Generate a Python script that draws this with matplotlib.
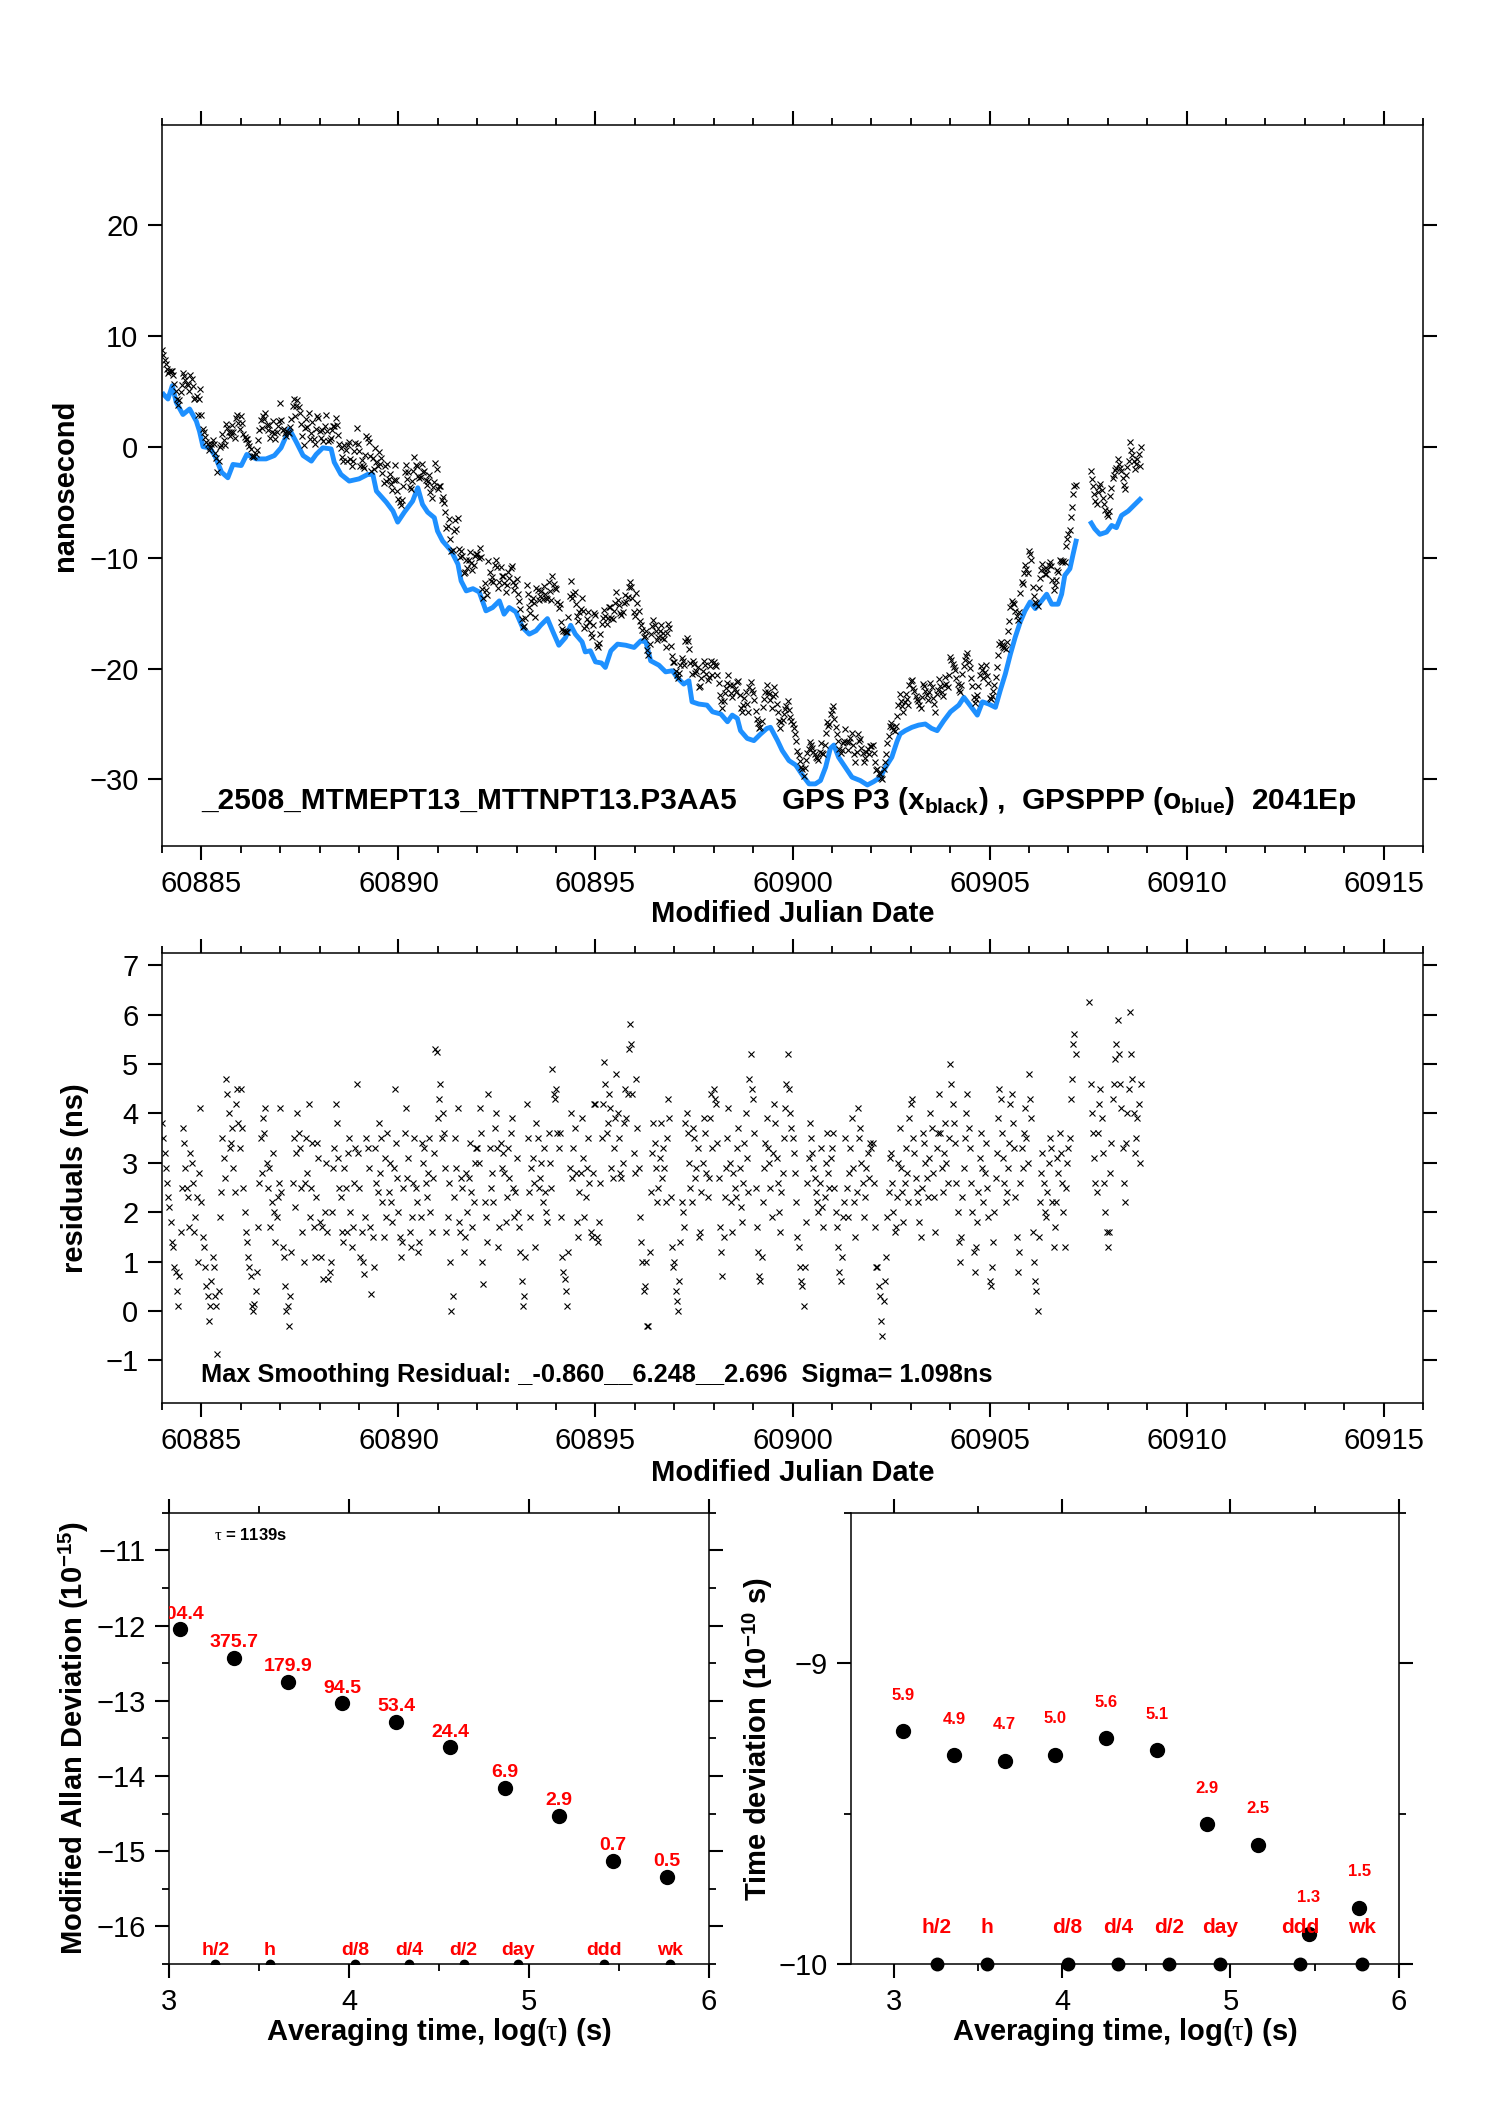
import numpy as np
import matplotlib
matplotlib.use("agg")
from matplotlib import pyplot as plt
from matplotlib import font_manager
from matplotlib.ticker import MultipleLocator, NullLocator

avail = {f.name for f in font_manager.fontManager.ttflist}
NARROW = 'Liberation Sans Narrow' if 'Liberation Sans Narrow' in avail else 'Liberation Sans'

plt.rcParams['font.family'] = ['Liberation Sans', 'DejaVu Sans']
plt.rcParams['mathtext.fontset'] = 'custom'
plt.rcParams['mathtext.rm'] = 'Liberation Sans'
plt.rcParams['mathtext.bf'] = 'Liberation Sans:bold'
plt.rcParams['mathtext.it'] = 'Liberation Serif'

# ---- GPSPPP (blue) curve, MJD / ns ----
blue_mjd = [60884.00, 60884.03, 60884.15, 60884.26, 60884.36, 60884.53, 60884.70, 60884.87, 60884.95,
            60885.04, 60885.21, 60885.34, 60885.51, 60885.67, 60885.80, 60886.01, 60886.15, 60886.39,
            60886.64, 60886.85, 60887.02, 60887.23, 60887.41, 60887.58, 60887.79, 60887.91, 60888.08,
            60888.29, 60888.37, 60888.54, 60888.75, 60889.00, 60889.22, 60889.35, 60889.44, 60889.69,
            60889.86, 60889.98, 60890.15, 60890.36, 60890.49, 60890.61, 60890.74, 60890.91, 60890.99,
            60891.12, 60891.34, 60891.51, 60891.59, 60891.72, 60891.89, 60892.05, 60892.22, 60892.39,
            60892.56, 60892.68, 60892.81, 60892.98, 60893.15, 60893.32, 60893.49, 60893.61, 60893.78,
            60893.91, 60894.07, 60894.24, 60894.37, 60894.49, 60894.66, 60894.74, 60894.87, 60895.00,
            60895.15, 60895.25, 60895.39, 60895.56, 60895.77, 60895.98, 60896.15, 60896.28, 60896.40,
            60896.61, 60896.78, 60896.95, 60897.07, 60897.24, 60897.37, 60897.45, 60897.62, 60897.83,
            60897.97, 60898.18, 60898.35, 60898.47, 60898.60, 60898.68, 60898.85, 60899.02, 60899.19,
            60899.35, 60899.44, 60899.62, 60899.74, 60899.91, 60900.08, 60900.25, 60900.42, 60900.58,
            60900.71, 60900.84, 60900.96, 60901.05, 60901.17, 60901.34, 60901.51, 60901.72, 60901.90,
            60902.06, 60902.23, 60902.36, 60902.52, 60902.65, 60902.73, 60902.86, 60903.03, 60903.20,
            60903.37, 60903.53, 60903.67, 60903.84, 60904.01, 60904.22, 60904.35, 60904.48, 60904.69,
            60904.82, 60904.98, 60905.15, 60905.27, 60905.40, 60905.53, 60905.65, 60905.78, 60905.90,
            60906.03, 60906.16, 60906.32, 60906.45, 60906.58, 60906.74, 60906.83, 60906.91, 60907.04,
            60907.12, 60907.21, 60907.35, 60907.55, 60907.67, 60907.80, 60907.97, 60908.10, 60908.22,
            60908.35, 60908.52, 60908.69, 60908.86]
blue_ns = [4.9, 4.75, 4.3, 5.5, 4.0, 2.9, 3.4, 2.3, 1.4,
           0.0, -0.1, -0.8, -2.3, -2.8, -1.6, -1.7, -0.7, -1.1,
           -1.1, -0.8, -0.1, 1.6, 0.4, -0.8, -1.3, -0.7, -0.1,
           -0.2, -1.4, -2.5, -3.1, -2.9, -2.5, -2.5, -4.0, -5.0,
           -5.8, -6.8, -5.9, -4.9, -3.7, -5.2, -5.9, -6.4, -7.6,
           -8.5, -9.4, -10.6, -12.1, -13.0, -12.8, -13.1, -14.8, -14.5,
           -13.9, -15.1, -14.5, -14.9, -16.3, -16.9, -16.6, -16.1, -15.5,
           -16.6, -17.9, -17.2, -16.1, -16.9, -17.6, -18.5, -18.4, -19.4,
           -19.5, -19.9, -18.4, -17.8, -17.9, -18.1, -17.5, -17.6, -19.3,
           -19.7, -20.3, -20.2, -20.8, -21.4, -21.1, -23.0, -23.2, -23.3,
           -23.9, -24.1, -24.8, -24.2, -24.5, -25.6, -26.3, -26.5, -25.9,
           -25.4, -25.3, -26.5, -27.4, -28.3, -28.7, -29.6, -30.4, -30.4,
           -30.1, -28.9, -27.2, -26.9, -28.0, -28.9, -29.8, -30.1, -30.5,
           -30.2, -29.8, -28.9, -28.0, -26.6, -25.9, -25.6, -25.3, -25.1,
           -25.0, -25.4, -25.6, -24.7, -23.9, -23.3, -22.6, -23.2, -24.2,
           -23.0, -23.2, -23.5, -22.0, -20.5, -18.7, -17.2, -15.8, -14.8,
           -14.0, -14.6, -13.9, -13.3, -14.2, -14.2, -13.3, -11.6, -11.0,
           -9.7, -8.3, np.nan, -6.7, -7.4, -7.9, -7.7, -7.1, -7.3,
           -6.2, -5.8, -5.2, -4.6]

# ---- GPS P3 residuals (ns), 32 samples per day starting MJD 60884 ----
resid_start = 60884
resid_per_day = 32
nan = np.nan
resid_rows = [
    [3.8, 3.5, 3.2, 2.9, 2.6, 2.3, 2.1, 1.8, 1.4, 1.3, 0.9, 0.8, 0.4, 0.1, 0.7, 1.6,
     2.5, 3.7, 3.4, 2.9, 2.5, 2.3, 1.7, 3.2, 3.0, 2.6, 1.6, 1.9, 2.3, 1.0, 2.8, 4.1],
    [2.2, 1.5, 1.3, 0.9, 0.5, 0.3, -0.2, 0.1, 0.6, 1.1, 0.9, 0.3, 0.1, -0.86, 0.4, 1.9,
     2.4, 3.5, 3.1, 2.7, 4.7, 4.4, 4.0, 3.3, 3.4, 3.7, 2.9, 2.4, 4.2, 4.5, 3.8, 3.3],
    [4.5, 3.7, 2.5, 2.0, 1.6, 1.4, 1.1, 0.9, 0.7, 0.1, 0.0, 0.15, 0.4, 0.8, 1.7, 2.6,
     3.5, 2.8, 3.9, 3.6, 4.1, 3.0, 2.5, 2.9, 1.7, 2.2, 3.2, 2.0, 1.4, 1.9, 2.3, 2.6],
    [4.1, 2.4, 1.3, 1.1, 0.5, 0.0, 0.1, -0.3, 0.3, 1.2, 2.6, 3.5, 2.1, 3.2, 4.0, 3.6,
     3.3, 2.5, 1.6, 1.0, 2.6, 3.5, 2.8, 4.2, 1.9, 2.5, 3.4, 1.7, 1.1, 2.3, 3.4, 3.1],
    [1.8, 1.1, 1.7, 0.65, 2.0, 3.0, 1.6, 0.65, 0.8, 1.0, 2.0, 2.9, 3.3, 4.2, 3.8, 3.1,
     2.5, 2.3, 1.6, 1.4, 2.9, 2.5, 1.6, 3.2, 3.5, 2.0, 1.3, 1.7, 2.6, 3.3, 4.6, 3.2],
    [2.5, 1.1, 1.6, 1.0, 0.75, 1.9, 3.5, 3.3, 2.9, 1.7, 0.35, 1.5, 0.9, 3.3, 2.6, 2.4,
     3.8, 2.8, 3.5, 2.2, 1.5, 3.1, 1.9, 3.6, 2.4, 3.0, 2.2, 1.8, 2.9, 4.5, 3.4, 2.7],
    [2.0, 1.5, 1.1, 1.4, 2.5, 3.6, 4.1, 2.7, 3.1, 1.6, 1.3, 1.9, 2.6, 3.5, 2.5, 2.2,
     1.2, 1.4, 1.9, 3.4, 3.0, 3.3, 2.6, 2.3, 2.8, 3.5, 2.0, 1.6, 2.7, 3.2, 5.3, 5.25],
    [3.9, 4.3, 4.6, 3.5, 4.0, 3.6, 2.9, 1.6, 1.9, 2.6, 1.0, 0.0, 0.3, 2.3, 3.5, 2.9,
     4.1, 1.8, 1.6, 2.7, 2.5, 1.2, 1.5, 2.8, 2.0, 2.7, 3.4, 2.4, 1.7, 2.2, 3.0, 3.3],
    [3.3, 3.0, 4.1, 3.6, 1.0, 0.55, 2.2, 1.9, 1.4, 4.4, 3.3, 2.5, 2.8, 2.2, 3.7, 4.0,
     3.3, 1.3, 1.7, 3.4, 2.9, 3.2, 2.8, 1.8, 2.3, 3.3, 2.7, 3.6, 3.9, 2.5, 1.9, 2.4],
    [3.1, 2.0, 1.7, 1.2, 0.6, 0.1, 0.3, 1.1, 4.2, 3.5, 2.4, 1.9, 2.9, 3.1, 2.6, 1.3,
     3.8, 3.5, 2.5, 2.7, 3.0, 2.2, 3.3, 2.4, 2.0, 1.8, 3.6, 3.0, 2.5, 4.9, 4.4, 4.3],
    [4.5, 3.6, 3.3, 3.6, 1.9, 1.1, 0.8, 0.65, 0.4, 0.1, 1.2, 2.9, 4.0, 2.7, 3.3, 3.7,
     2.8, 1.8, 1.5, 2.4, 2.8, 3.9, 3.1, 1.9, 2.3, 2.9, 3.5, 2.6, 1.6, 1.5, 2.8, 4.2],
    [4.2, 1.5, 1.4, 1.8, 2.6, 3.5, 4.2, 5.05, 4.6, 3.6, 3.8, 4.4, 4.1, 2.9, 2.7, 3.3,
     3.9, 4.8, 4.0, 3.5, 2.8, 2.7, 3.0, 3.8, 4.5, 3.9, 4.4, 5.3, 5.8, 5.4, 4.4, 3.2],
    [2.8, 4.7, 3.7, 2.9, 1.9, 1.4, 1.0, 0.4, 0.5, 1.0, -0.3, -0.3, 1.2, 2.4, 3.2, 3.8,
     3.4, 2.9, 2.2, 2.5, 3.1, 3.8, 2.7, 3.3, 2.9, 2.2, 3.5, 4.3, 3.9, 2.3, 1.3, 0.9],
    [1.0, 0.4, 0.2, 0.0, 0.6, 1.4, 2.2, 2.0, 1.7, 3.8, 4.0, 3.6, 3.0, 2.5, 2.2, 3.7,
     3.5, 2.7, 2.9, 3.3, 1.5, 1.6, 2.4, 3.0, 3.9, 3.6, 2.8, 2.3, 2.7, 3.9, 4.4, 3.3],
    [4.5, 4.3, 4.2, 3.4, 2.7, 1.7, 1.2, 0.7, 1.5, 2.3, 2.9, 3.5, 4.1, 3.0, 2.2, 1.6,
     2.8, 2.5, 2.3, 3.3, 3.7, 2.9, 2.1, 1.8, 2.6, 3.4, 4.0, 3.1, 2.4, 4.7, 5.2, 4.5],
    [4.3, 3.6, 2.5, 1.7, 1.2, 0.7, 0.6, 1.1, 2.2, 2.9, 3.4, 3.9, 3.3, 3.0, 2.5, 1.9,
     3.2, 4.2, 3.8, 3.1, 2.6, 2.0, 1.6, 2.4, 2.8, 3.5, 4.1, 4.6, 5.2, 4.5, 4.0, 3.7],
    [3.5, 3.2, 2.8, 2.2, 1.5, 1.3, 0.9, 0.6, 0.5, 0.1, 0.9, 1.8, 2.6, 3.1, 3.8, 3.5,
     3.2, 2.9, 2.7, 2.4, 2.2, 2.0, 2.6, 3.3, 2.1, 1.7, 2.3, 3.0, 3.6, 2.8, 2.5, 3.1],
    [3.3, 3.6, 2.5, 2.0, 1.7, 1.3, 0.8, 0.6, 1.1, 1.9, 2.2, 3.5, 2.5, 1.9, 2.8, 3.3,
     3.9, 2.9, 2.2, 1.5, 2.4, 4.1, 3.5, 3.7, 3.0, 2.6, 1.9, 2.3, 2.9, 3.2, 2.7, 3.4],
    [3.3, 3.4, 2.6, 1.7, 0.9, 0.9, 0.5, 0.3, -0.2, -0.5, 0.2, 0.6, 1.1, 1.9, 2.4, 3.1,
     3.2, 2.6, 2.0, 1.6, 1.7, 2.3, 3.0, 3.7, 2.9, 2.4, 1.8, 2.6, 3.3, 2.8, 2.2, 3.9],
    [4.2, 4.3, 3.5, 3.2, 2.7, 2.4, 2.2, 1.8, 1.5, 2.5, 3.6, 3.4, 3.0, 2.7, 2.3, 3.1,
     4.0, 3.7, 2.8, 2.3, 1.6, 3.3, 3.6, 4.4, 3.6, 2.9, 2.4, 3.2, 3.8, 3.0, 2.6, 3.5],
    [5.0, 4.6, 4.2, 3.8, 3.4, 2.6, 2.0, 1.4, 1.0, 1.5, 2.3, 2.9, 3.5, 4.0, 4.4, 3.7,
     3.3, 2.6, 2.0, 1.2, 0.8, 1.3, 1.8, 2.4, 3.1, 3.6, 2.9, 2.2, 2.8, 3.4, 2.5, 1.9],
    [0.6, 0.5, 0.9, 1.4, 2.0, 2.7, 3.2, 3.9, 4.5, 4.3, 3.6, 3.1, 2.6, 2.2, 2.4, 2.9,
     3.4, 4.2, 4.4, 3.8, 3.3, 2.3, 1.5, 0.8, 1.2, 2.6, 3.3, 2.9, 3.6, 4.1, 3.5, 3.0],
    [4.8, 4.3, 3.9, 1.6, 1.0, 0.6, 0.4, 0.0, 1.5, 2.2, 2.8, 3.2, 2.6, 2.0, 1.9, 2.4,
     3.0, 3.5, 3.3, 2.2, 1.3, 1.7, 2.2, 3.1, 2.8, 3.6, 3.2, 2.6, 2.0, 1.3, 2.5, 3.0],
    [3.3, 3.5, 4.3, 4.7, 5.4, 5.6, 5.2, nan, nan, nan, nan, nan, nan, nan, nan, nan,
     nan, 6.25, 4.6, 4.0, 3.6, 3.1, 2.6, 2.4, 3.6, 4.2, 4.5, 3.9, 3.2, 2.6, 2.0, 1.6],
    [1.3, 1.6, 2.8, 3.4, 4.3, 4.6, 5.1, 5.4, 5.9, 5.2, 4.6, 4.1, 3.3, 2.6, 2.2, 3.4,
     4.0, 4.5, 6.05, 5.2, 4.7, 4.0, 3.2, 3.5, 3.9, 4.2, 3.0, 4.6],
]

# ---- stability results ----
log_tau = [3.057, 3.358, 3.659, 3.960, 4.261, 4.562, 4.863, 5.164, 5.465, 5.766]
mdev_log = [-12.05, -12.43, -12.75, -13.03, -13.28, -13.62, -14.16, -14.53, -15.13, -15.34]
mdev_labels = ['904.4', '375.7', '179.9', '94.5', '53.4', '24.4', '6.9', '2.9', '0.7', '0.5']
tdev_log = [-9.226, -9.306, -9.324, -9.304, -9.249, -9.290, -9.535, -9.604, -9.90, -9.813]
tdev_labels = ['5.9', '4.9', '4.7', '5.0', '5.6', '5.1', '2.9', '2.5', '1.3', '1.5']
mark_names = ['h/2', 'h', 'd/8', 'd/4', 'd/2', 'day', 'ddd', 'wk']
mark_sec = [1800, 3600, 10800, 21600, 43200, 86400, 259200, 604800]

BLUE = '#1E90FF'
RED = '#FF0000'


def style_axes(ax, major_len=10, minor_len=5):
    ax.tick_params(which='both', direction='out', top=True, right=True,
                   labeltop=False, labelright=False)
    ax.tick_params(which='major', length=major_len, width=1.5, labelsize=21,
                   pad=7, labelfontfamily=NARROW)
    ax.tick_params(which='minor', length=minor_len, width=1.3)
    for sp in ax.spines.values():
        sp.set_linewidth(1.1)


fig = plt.figure(figsize=(14.88, 21.05), dpi=100)

# residual time series
resid = np.concatenate([np.array(r, dtype=float) for r in resid_rows])
t = resid_start + np.arange(len(resid)) / resid_per_day
black_ns = np.interp(t, blue_mjd, blue_ns) + resid

# ---- top panel ----
ax1 = fig.add_axes([0.1089, 0.5981, 0.8474, 0.3425])
ax1.plot(blue_mjd, blue_ns, '-', color=BLUE, lw=3.5, solid_capstyle='butt')
ax1.plot(t, black_ns, 'x', color='black', ms=5, mew=0.8)
ax1.set_xlim(60884, 60916)
ax1.set_ylim(-36, 29)
ax1.xaxis.set_major_locator(MultipleLocator(5))
ax1.xaxis.set_minor_locator(MultipleLocator(1))
ax1.yaxis.set_major_locator(MultipleLocator(10))
ax1.yaxis.set_minor_locator(NullLocator())
ax1.xaxis.get_major_formatter().set_useOffset(False)
style_axes(ax1)
ax1.set_xlabel('Modified Julian Date', fontsize=21, fontweight='bold')
ax1.set_ylabel('nanosecond', fontsize=21, fontweight='bold')
ax1.xaxis.set_label_coords(0.5, -0.075)
ax1.yaxis.set_label_coords(-0.066, 0.5)
ax1.text(60885.0, -31.9, '_2508_MTMEPT13_MTTNPT13.P3AA5', fontsize=21.5,
         fontweight='bold', family=NARROW, va='center')
ax1.text(60899.7, -31.9, r'GPS P3 (x$_{\mathbf{black}}$) ,  GPSPPP (o$_{\mathbf{blue}}$)  2041Ep',
         fontsize=21.5, fontweight='bold', va='center')

# ---- residual panel ----
ax2 = fig.add_axes([0.1089, 0.3335, 0.8474, 0.2138])
ax2.plot(t, resid, 'x', color='black', ms=5, mew=0.8)
ax2.set_xlim(60884, 60916)
ax2.set_ylim(-1.86, 7.248)
ax2.xaxis.set_major_locator(MultipleLocator(5))
ax2.xaxis.set_minor_locator(MultipleLocator(1))
ax2.yaxis.set_major_locator(MultipleLocator(1))
ax2.yaxis.set_minor_locator(NullLocator())
ax2.xaxis.get_major_formatter().set_useOffset(False)
style_axes(ax2)
ax2.set_xlabel('Modified Julian Date', fontsize=21, fontweight='bold')
ax2.set_ylabel('residuals (ns)', fontsize=21, fontweight='bold')
ax2.xaxis.set_label_coords(0.5, -0.125)
ax2.yaxis.set_label_coords(-0.058, 0.5)
ax2.text(60885.0, -1.3, 'Max Smoothing Residual: _-0.860__6.248__2.696  Sigma= 1.098ns',
         fontsize=18.3, fontweight='bold', family=NARROW, va='center')

mark_x = np.log10(mark_sec)

# ---- modified Allan deviation ----
ax3 = fig.add_axes([0.1139, 0.0670, 0.3626, 0.2143])
ax3.plot(log_tau, mdev_log, 'o', color='black', ms=10)
for x, y, lab in zip(log_tau, mdev_log, mdev_labels):
    ax3.text(x, y + 0.2, lab, color=RED, fontsize=14, fontweight='bold',
             ha='center', va='center', clip_on=True)
ax3.plot(mark_x, [-16.5] * len(mark_x), 'o', color='black', ms=6)
for x, lab in zip(mark_x, mark_names):
    ax3.text(x, -16.32, lab, color=RED, fontsize=14, fontweight='bold',
             ha='center', va='center')
ax3.text(3.25, -10.8, r'$\tau$ = 1139s', fontsize=12, fontweight='bold', va='center')
ax3.set_xlim(3, 6)
ax3.set_ylim(-16.5, -10.5)
ax3.xaxis.set_major_locator(MultipleLocator(1))
ax3.xaxis.set_minor_locator(MultipleLocator(0.5))
ax3.yaxis.set_major_locator(MultipleLocator(1))
ax3.yaxis.set_minor_locator(MultipleLocator(0.5))
style_axes(ax3)
ax3.set_xlabel(r'Averaging time, log($\tau$) (s)', fontsize=21, fontweight='bold')
ax3.set_ylabel(r'Modified Allan Deviation (10$^{\mathbf{-15}}$)', fontsize=21, fontweight='bold')
ax3.xaxis.set_label_coords(0.5, -0.115)
ax3.yaxis.set_label_coords(-0.145, 0.5)

# ---- time deviation ----
ax4 = fig.add_axes([0.5722, 0.0670, 0.3679, 0.2143])
ax4.plot(log_tau, tdev_log, 'o', color='black', ms=10)
for x, y, lab in zip(log_tau, tdev_log, tdev_labels):
    ax4.text(x, y + 0.12, lab, color=RED, fontsize=12, fontweight='bold',
             ha='center', va='center')
ax4.plot(mark_x, [-10] * len(mark_x), 'o', color='black', ms=9, clip_on=False)
for x, lab in zip(mark_x, mark_names):
    ax4.text(x, -9.88, lab, color=RED, fontsize=15, fontweight='bold',
             ha='center', va='center')
ax4.set_xlim(2.75, 6.0)
ax4.set_ylim(-10, -8.5)
ax4.xaxis.set_major_locator(MultipleLocator(1))
ax4.xaxis.set_minor_locator(MultipleLocator(0.5))
ax4.yaxis.set_major_locator(MultipleLocator(1))
ax4.yaxis.set_minor_locator(MultipleLocator(0.5))
style_axes(ax4)
ax4.set_xlabel(r'Averaging time, log($\tau$) (s)', fontsize=21, fontweight='bold')
ax4.set_ylabel(r'Time deviation (10$^{\mathbf{-10}}$ s)', fontsize=21, fontweight='bold')
ax4.xaxis.set_label_coords(0.5, -0.115)
ax4.yaxis.set_label_coords(-0.14, 0.5)

fig.savefig('out.png', dpi=100)
